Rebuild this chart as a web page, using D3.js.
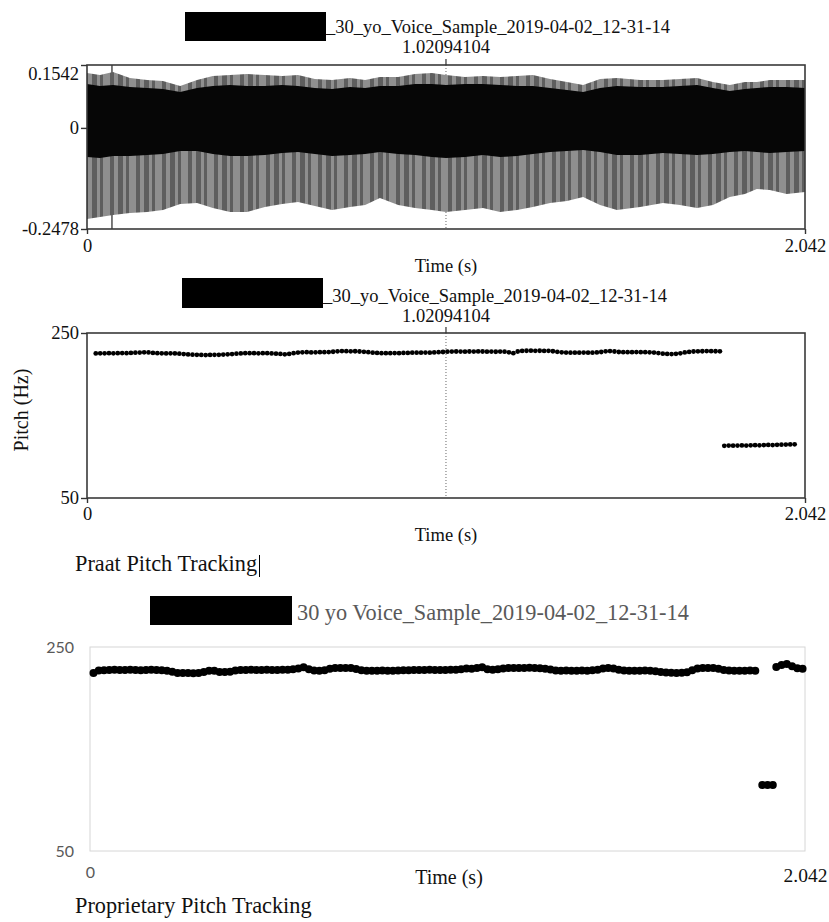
<!DOCTYPE html>
<html>
<head>
<meta charset="utf-8">
<script src="https://cdn.jsdelivr.net/npm/d3@7"></script>
<style>
  body { margin: 0; background: #fff; }
  svg { display: block; }
</style>
</head>
<body>
<script>
// ---- data ----

// waveform envelope (time in s, amplitude)
var waveTime = [0, 0.037, 0.074, 0.122, 0.171, 0.216, 0.265, 0.313, 0.358, 0.407,
  0.455, 0.506, 0.555, 0.600, 0.648, 0.697, 0.748, 0.791, 0.833, 0.885,
  0.933, 0.981, 1.021, 1.075, 1.126, 1.175, 1.223, 1.268, 1.317, 1.365,
  1.411, 1.459, 1.507, 1.573, 1.638, 1.686, 1.735, 1.780, 1.828, 1.871,
  1.905, 1.942, 1.990, 2.042];
var waveGrayTop = [0.1346, 0.1297, 0.1370, 0.1223, 0.1174, 0.1150, 0.1027, 0.1174, 0.1272, 0.1297,
  0.1321, 0.1297, 0.1272, 0.1297, 0.1199, 0.1174, 0.1223, 0.1174, 0.1248, 0.1248,
  0.1321, 0.1346, 0.1297, 0.1248, 0.1272, 0.1248, 0.1272, 0.1297, 0.1199, 0.1125,
  0.1052, 0.1199, 0.1223, 0.1174, 0.1174, 0.1199, 0.1223, 0.1125, 0.1052, 0.1125,
  0.1125, 0.1174, 0.1174, 0.1174];
var waveBlackTop = [0.1076, 0.1027, 0.1052, 0.1003, 0.0978, 0.0954, 0.0880, 0.0978, 0.1027, 0.1052,
  0.1027, 0.1027, 0.1052, 0.1027, 0.0978, 0.0954, 0.1003, 0.0978, 0.1027, 0.1027,
  0.1076, 0.1076, 0.1052, 0.1076, 0.1076, 0.1052, 0.1027, 0.1027, 0.0978, 0.0929,
  0.0880, 0.0978, 0.1027, 0.1003, 0.1003, 0.1027, 0.1052, 0.0978, 0.0905, 0.0954,
  0.0978, 0.1003, 0.1003, 0.0978];
var waveBlackBottom = [-0.0713, -0.0738, -0.0689, -0.0689, -0.0664, -0.0640, -0.0566, -0.0566, -0.0640, -0.0689,
  -0.0689, -0.0664, -0.0615, -0.0591, -0.0640, -0.0689, -0.0664, -0.0640, -0.0591, -0.0640,
  -0.0664, -0.0713, -0.0738, -0.0713, -0.0664, -0.0713, -0.0689, -0.0640, -0.0591, -0.0566,
  -0.0542, -0.0591, -0.0664, -0.0664, -0.0615, -0.0640, -0.0664, -0.0640, -0.0591, -0.0566,
  -0.0591, -0.0615, -0.0591, -0.0566];
var waveGrayBottom = [-0.2233, -0.2184, -0.2135, -0.2086, -0.2061, -0.2012, -0.1865, -0.1841, -0.1963, -0.2061,
  -0.2061, -0.1939, -0.1865, -0.1816, -0.1914, -0.2012, -0.1939, -0.1890, -0.1718, -0.1890,
  -0.1963, -0.2012, -0.2061, -0.2012, -0.1963, -0.2061, -0.2012, -0.1939, -0.1841, -0.1792,
  -0.1694, -0.1890, -0.2012, -0.1939, -0.1841, -0.1890, -0.1963, -0.1890, -0.1694, -0.1620,
  -0.1497, -0.1522, -0.1620, -0.1571];
var clickTime = 0.071;

// axes
var ampTicks = [0.1542, 0, -0.2478];
var timeTicks = [0, 2.042];
var pitchTicks = [250, 50];
var cursorTime = 1.02094104;

// Praat pitch track, one value per frame
var praatStart = 0.025, praatStep = 0.0125;
var praatPitch = [
  225.2, 225.4, 225.4, 225.6, 225.4, 225.5, 225.7, 225.6, 225.9, 226.1, 226.3,
  226.6, 226.4,
  225.8, 225.5, 225.4, 225.3, 225.4, 225.2, 224.9, 224.5,
  224.0, 223.7, 223.5, 223.4, 223.3, 223.4, 223.5, 223.6, 223.8, 224.1, 224.5,
  225.0, 225.3, 225.5, 225.6, 225.5, 225.4, 225.6, 225.5, 225.3, 225.0, 224.6,
  224.2, 224.6,
  225.6, 226.3, 226.6, 226.7, 226.5, 226.6, 226.8, 226.7, 226.9, 227.3,
  227.8, 228.1, 228.0, 227.8, 227.9, 227.6, 227.2, 226.7,
  226.2, 225.8, 225.6, 225.5, 225.6, 225.7, 225.6, 225.8, 225.9, 226.1, 226.2,
  226.2, 226.3, 226.2, 226.4, 226.7, 227.0,
  227.4, 227.5, 227.6, 227.5, 227.4, 227.6, 227.5, 227.7, 227.6, 227.4, 227.5, 227.3, 227.5, 227.4, 226.6, 225.6,
  227.6, 228.3, 228.5, 228.6, 228.4, 228.5, 228.3, 228.4, 227.9, 227.2,
  226.6, 226.3, 226.2, 226.1, 226.2, 226.3, 226.1, 226.2, 226.4, 227.0,
  227.8, 228.1, 227.6,
  227.0, 226.8, 226.7, 226.8, 226.9, 226.7, 226.8, 226.6, 226.3, 225.7,
  225.0, 224.6, 224.5, 224.7, 225.4,
  226.4, 227.1, 227.6, 227.8, 227.9, 228.1, 228.0, 227.9, 227.8,
  113.3, 113.5, 113.4, 113.6, 113.7, 113.6, 113.8, 114.0, 113.9, 114.1,
  114.3, 114.2, 114.5, 114.6, 114.8, 114.9, 115.1
];

// proprietary pitch track, one value per frame, then the last few points
var propStart = 0.01, propStep = 0.015;
var propPitch = [
  224.5,
  226.9, 227.3, 227.5, 227.6, 227.4, 227.5, 227.7, 227.5, 227.3, 227.5, 227.6, 227.4, 227.2, 226.6, 225.8,
  224.6, 224.4, 224.5, 224.3, 224.6, 225.4,
  226.6, 226.8,
  225.6, 225.4, 225.8,
  226.9, 227.4, 227.5, 227.6, 227.4, 227.5, 227.6, 227.5, 227.4, 227.6, 227.8, 228.2, 229.0,
  230.2,
  228.3, 227.0, 226.8, 227.2,
  228.6, 229.3, 229.4, 229.5, 229.3, 228.4,
  227.2, 226.8, 226.7, 226.8, 226.9, 226.8, 226.7, 226.9, 227.1, 227.3,
  227.5, 227.4, 227.5, 227.6, 227.5, 227.4, 227.5, 227.6, 227.8, 228.3, 229.0,
  228.6, 229.4, 230.2, 228.2,
  227.6, 228.2, 228.9,
  229.4, 229.5, 229.3, 229.4, 229.6, 229.4, 229.2, 228.7, 227.9,
  227.0, 226.8, 226.9, 226.7, 226.8, 226.9, 226.8, 227.1, 227.8,
  228.8, 229.4, 229.0,
  227.6, 226.9, 226.8, 226.7, 226.8, 226.9, 226.7, 226.3, 225.6,
  225.0, 224.7, 224.6, 224.8, 225.3,
  227.2, 229.0, 229.4, 229.5, 229.3, 228.6,
  227.4, 226.9, 226.8, 226.7, 226.8, 226.9, 226.8
];
var propTailTime = [1.92, 1.935, 1.95, 1.96, 1.975, 1.99, 2.005, 2.02, 2.035];
var propTailPitch = [114.6, 114.7, 114.8, 230.4, 232.4, 233.3, 231.2, 229.2, 228.6];

// texts
var praatTitle = "_30_yo_Voice_Sample_2019-04-02_12-31-14";
var propTitle = "30 yo Voice_Sample_2019-04-02_12-31-14";

// ---- drawing ----
var serif = "'Liberation Serif', 'Times New Roman', serif";
var sans = "Lato, 'Open Sans', sans-serif";
var ink = "#111";

var svg = d3.select("body").append("svg")
  .attr("width", 829)
  .attr("height", 922);

// uneven two-tone vertical stripes for the gray part of the waveform
var pat = svg.append("defs").append("pattern")
  .attr("id", "stripes")
  .attr("patternUnits", "userSpaceOnUse")
  .attr("width", 26)
  .attr("height", 10);
pat.append("rect").attr("width", 26).attr("height", 10).attr("fill", "#8f8f8f");
[[6, 4], [14, 5], [22, 3]].forEach(function (s) {
  pat.append("rect").attr("x", s[0]).attr("width", s[1]).attr("height", 10).attr("fill", "#5e5e5e");
});

function styleAxis(g, font, size, color) {
  g.select(".domain").remove();
  g.attr("font-family", font).attr("font-size", size);
  g.selectAll("text").attr("fill", color);
  g.selectAll("line").attr("stroke", "#333").attr("stroke-width", 1.4);
}

function text(x, y, s, size, opts) {
  opts = opts || {};
  return svg.append("text")
    .attr("x", x)
    .attr("y", y)
    .attr("font-family", opts.font || serif)
    .attr("font-size", size)
    .attr("fill", opts.fill || ink)
    .attr("text-anchor", opts.anchor || "start")
    .text(s);
}

// Praat-style frame: box, left/bottom marks, "Time (s)", cursor time
function praatFrame(x, y, yTicks, top, titleY) {
  var l = x.range()[0], r = x.range()[1];
  var t = y.range()[1], b = y.range()[0];

  svg.append("rect")
    .attr("x", l).attr("y", t)
    .attr("width", r - l).attr("height", b - t)
    .attr("fill", "none")
    .attr("stroke", "#3a3a3a")
    .attr("stroke-width", 1.6);

  var gy = svg.append("g")
    .attr("transform", "translate(" + l + ",0)")
    .call(d3.axisLeft(y).tickValues(yTicks).tickSize(6).tickPadding(2).tickFormat(String));
  styleAxis(gy, serif, 18.5, ink);

  var gx = svg.append("g")
    .attr("transform", "translate(0," + b + ")")
    .call(d3.axisBottom(x).tickValues(timeTicks).tickSize(5).tickPadding(top ? 5 : 4).tickFormat(String));
  styleAxis(gx, serif, 18.5, ink);

  text((l + r) / 2, b + 43, "Time (s)", 18.5, {anchor: "middle"});

  // cursor mark above the box and its time
  svg.append("line")
    .attr("x1", x(cursorTime)).attr("x2", x(cursorTime))
    .attr("y1", t - 6).attr("y2", t)
    .attr("stroke", "#333").attr("stroke-width", 1.2);
  text(x(cursorTime), titleY + 20, String(cursorTime), 18.5, {anchor: "middle"});
  return gy;
}

function cursorLine(x, y) {
  svg.append("line")
    .attr("x1", x(cursorTime)).attr("x2", x(cursorTime))
    .attr("y1", y.range()[1]).attr("y2", y.range()[0])
    .attr("stroke", "#666")
    .attr("stroke-dasharray", "1,2");
}

// ---------- panel 1: waveform ----------
var x1 = d3.scaleLinear().domain([0, 2.042]).range([87, 805]);
var y1 = d3.scaleLinear().domain([-0.2478, 0.1542]).range([229, 65]);

var wave = waveTime.map(function (t, i) {
  return {t: t, gt: waveGrayTop[i], bt: waveBlackTop[i], bb: waveBlackBottom[i], gb: waveGrayBottom[i]};
});

cursorLine(x1, y1);

svg.append("line")
  .attr("x1", x1(clickTime)).attr("x2", x1(clickTime))
  .attr("y1", y1(ampTicks[0])).attr("y2", y1(ampTicks[2]))
  .attr("stroke", "#222")
  .attr("stroke-width", 1.2);

svg.append("path")
  .datum(wave)
  .attr("fill", "url(#stripes)")
  .attr("d", d3.area()
    .x(function (d) { return x1(d.t); })
    .y0(function (d) { return y1(d.gb); })
    .y1(function (d) { return y1(d.gt); }));

svg.append("path")
  .datum(wave)
  .attr("fill", "#060606")
  .attr("d", d3.area()
    .x(function (d) { return x1(d.t); })
    .y0(function (d) { return y1(d.bb); })
    .y1(function (d) { return y1(d.bt); }));

var g1 = praatFrame(x1, y1, ampTicks, true, 33);
// top amplitude label sits a little lower in the original
g1.selectAll("text").filter(function (d) { return d === ampTicks[0]; }).attr("dy", "0.8em");

svg.append("rect").attr("x", 185).attr("y", 12).attr("width", 141).attr("height", 29).attr("fill", "#000");
text(326, 33, praatTitle, 18.5);

// ---------- panel 2: Praat pitch ----------
var x2 = d3.scaleLinear().domain([0, 2.042]).range([87, 805]);
var y2 = d3.scaleLinear().domain([50, 250]).range([498, 333]);

cursorLine(x2, y2);

svg.append("g")
  .selectAll("circle")
  .data(praatPitch)
  .enter().append("circle")
  .attr("cx", function (d, i) { return x2(praatStart + i * praatStep); })
  .attr("cy", function (d) { return y2(d); })
  .attr("r", 2.4)
  .attr("fill", "#000");

praatFrame(x2, y2, pitchTicks, false, 302);

svg.append("text")
  .attr("transform", "translate(28,410) rotate(-90)")
  .attr("font-family", serif)
  .attr("font-size", 20)
  .attr("fill", ink)
  .attr("text-anchor", "middle")
  .text("Pitch (Hz)");

svg.append("rect").attr("x", 182).attr("y", 278).attr("width", 141).attr("height", 30).attr("fill", "#000");
text(323, 302, praatTitle, 18.5);

text(75, 571, "Praat Pitch Tracking", 22.3);
svg.append("line")
  .attr("x1", 259.5).attr("x2", 259.5)
  .attr("y1", 555).attr("y2", 577)
  .attr("stroke", "#000");

// ---------- panel 3: proprietary pitch ----------
var x3 = d3.scaleLinear().domain([0, 2.042]).range([90, 805]);
var y3 = d3.scaleLinear().domain([50, 250]).range([851, 647]);

svg.append("rect")
  .attr("x", 90).attr("y", 647)
  .attr("width", 715).attr("height", 204)
  .attr("fill", "none")
  .attr("stroke", "#d6d6d6");

var gy3 = svg.append("g")
  .attr("transform", "translate(90,0)")
  .call(d3.axisLeft(y3).tickValues(pitchTicks).tickSize(0).tickPadding(16));
styleAxis(gy3, sans, 16, "#595959");

var gx3a = svg.append("g")
  .attr("transform", "translate(0,851)")
  .call(d3.axisBottom(x3).tickValues([timeTicks[0]]).tickSize(0).tickPadding(16).tickFormat(String));
styleAxis(gx3a, sans, 16, "#595959");

var gx3b = svg.append("g")
  .attr("transform", "translate(0,851)")
  .call(d3.axisBottom(x3).tickValues([timeTicks[1]]).tickSize(0).tickPadding(17).tickFormat(String));
styleAxis(gx3b, serif, 19.5, ink);

var propPoints = propPitch.map(function (v, i) {
  return {t: propStart + i * propStep, v: v};
}).concat(propTailTime.map(function (t, i) {
  return {t: t, v: propTailPitch[i]};
}));

svg.append("g")
  .selectAll("circle")
  .data(propPoints)
  .enter().append("circle")
  .attr("cx", function (d) { return x3(d.t); })
  .attr("cy", function (d) { return y3(d.v); })
  .attr("r", 4)
  .attr("fill", "#000");

text(449, 884, "Time (s)", 20, {anchor: "middle"});

svg.append("rect").attr("x", 150).attr("y", 596).attr("width", 142).attr("height", 29).attr("fill", "#000");
text(297, 620, propTitle, 22.3, {fill: "#595959"});

text(75, 913, "Proprietary Pitch Tracking", 22.3);
</script>
</body>
</html>
